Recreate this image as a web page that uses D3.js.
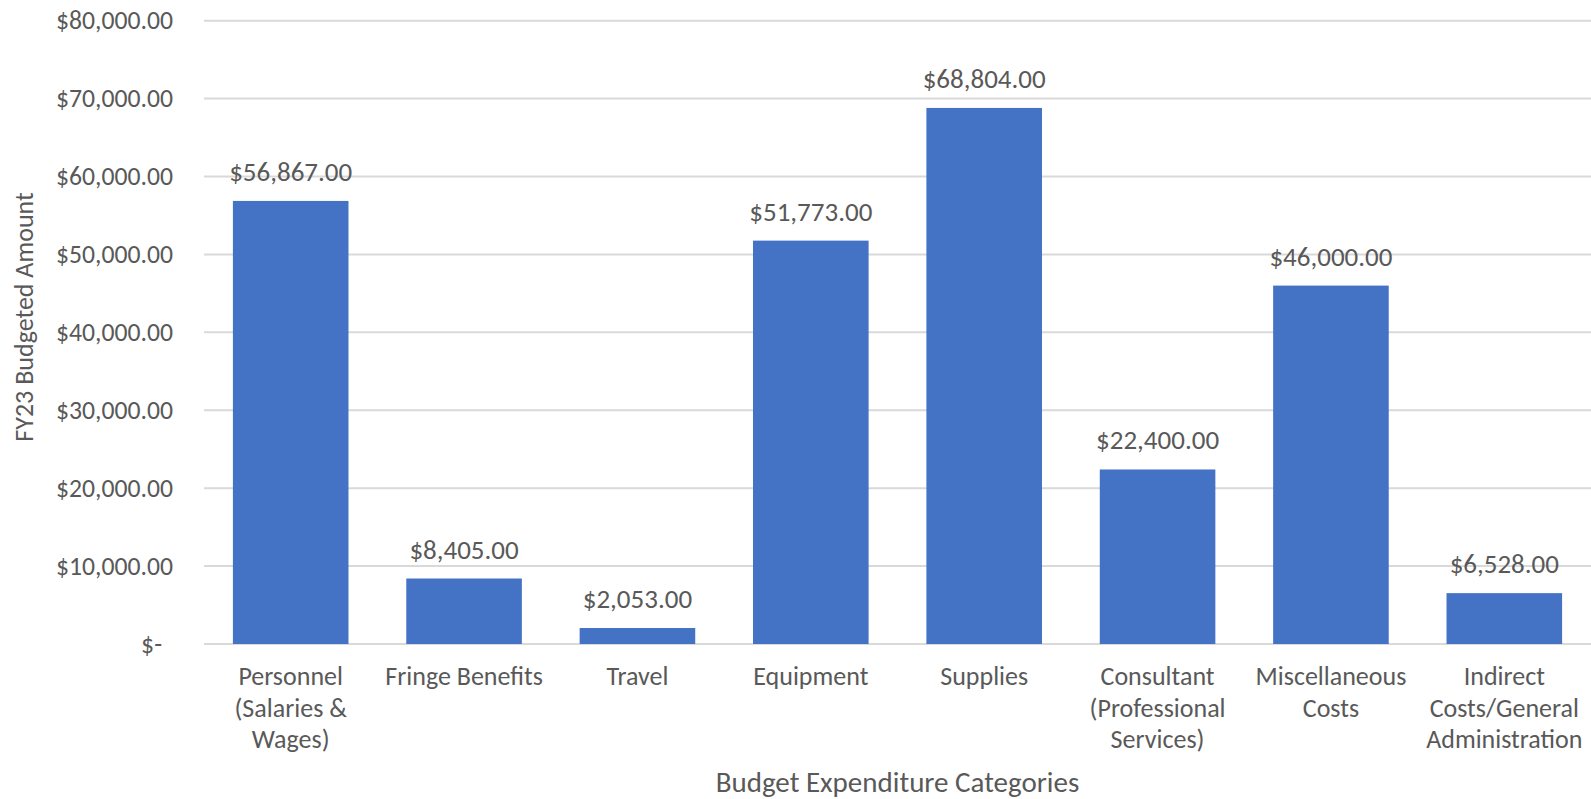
<!DOCTYPE html>
<html>
<head>
<meta charset="utf-8">
<script src="https://cdn.jsdelivr.net/npm/d3@7/dist/d3.min.js"></script>
<style>
  html, body { margin: 0; padding: 0; background: #ffffff; }
  svg { display: block; }
  text { font-family: Carlito, Calibri, Lato, "Open Sans", sans-serif; fill: #595959; }
</style>
</head>
<body>
<svg id="chart" width="1591" height="799"></svg>
<script>
// Budget categories (each entry is one line of the axis label)
const categories = [
  ["Personnel", "(Salaries &", "Wages)"],
  ["Fringe Benefits"],
  ["Travel"],
  ["Equipment"],
  ["Supplies"],
  ["Consultant", "(Professional", "Services)"],
  ["Miscellaneous", "Costs"],
  ["Indirect", "Costs/General", "Administration"]
];

// FY23 budgeted amounts, in dollars
const amounts = [56867, 8405, 2053, 51773, 68804, 22400, 46000, 6528];

// Value axis ticks
const yTicks = [0, 10000, 20000, 30000, 40000, 50000, 60000, 70000, 80000];

const xTitle = "Budget Expenditure Categories";
const yTitle = "FY23 Budgeted Amount";

const W = 1591, H = 799;
const margin = { left: 204, right: 0, top: 20.7, bottom: 155 };
const plotBottom = H - margin.bottom;

const svg = d3.select("#chart");

const keys = categories.map((c, i) => i);
const x = d3.scaleBand()
  .domain(keys)
  .range([margin.left, W - margin.right])
  .paddingInner(1 / 3)
  .paddingOuter(1 / 6);

const y = d3.scaleLinear()
  .domain([0, 80000])
  .range([plotBottom, margin.top]);

const money = d3.format("$,.2f");
const tickLabel = v => v === 0 ? "$-" : money(v);

// Horizontal gridlines
svg.append("g")
  .selectAll("line")
  .data(yTicks)
  .join("line")
  .attr("x1", margin.left)
  .attr("x2", W - margin.right)
  .attr("y1", d => y(d))
  .attr("y2", d => y(d))
  .attr("stroke", "#d9d9d9")
  .attr("stroke-width", 2);

// Value axis labels
const yAxis = d3.axisLeft(y)
  .tickValues(yTicks)
  .tickFormat(tickLabel)
  .tickSize(0)
  .tickPadding(31);

const yg = svg.append("g")
  .attr("transform", `translate(${margin.left},0)`)
  .call(yAxis);
yg.select(".domain").remove();
yg.selectAll(".tick text")
  .attr("fill", "#595959")
  .style("font-family", "Carlito, Calibri, Lato, sans-serif")
  .style("font-size", "25.7px")
  .attr("dx", d => d === 0 ? -11 : 0);

// Bars
svg.append("g")
  .selectAll("rect")
  .data(amounts)
  .join("rect")
  .attr("x", (d, i) => x(i))
  .attr("width", x.bandwidth())
  .attr("y", d => y(d))
  .attr("height", d => y(0) - y(d))
  .attr("fill", "#4472c4");

// Value labels above bars
svg.append("g")
  .selectAll("text")
  .data(amounts)
  .join("text")
  .attr("x", (d, i) => x(i) + x.bandwidth() / 2)
  .attr("y", d => y(d) - 20)
  .attr("text-anchor", "middle")
  .style("font-size", "27px")
  .text(d => money(d));

// Category labels
const catG = svg.append("g")
  .selectAll("text")
  .data(categories)
  .join("text")
  .attr("x", (d, i) => x(i) + x.bandwidth() / 2)
  .attr("y", y(0) + 41)
  .attr("text-anchor", "middle")
  .style("font-size", "26px");
catG.selectAll("tspan")
  .data(d => d)
  .join("tspan")
  .attr("x", function () { return d3.select(this.parentNode).attr("x"); })
  .attr("dy", (d, j) => j === 0 ? 0 : 31.5)
  .text(d => d);

// Axis titles
svg.append("text")
  .attr("x", margin.left + (W - margin.right - margin.left) / 2)
  .attr("y", 792)
  .attr("text-anchor", "middle")
  .style("font-size", "29px")
  .text(xTitle);

svg.append("text")
  .attr("transform", `translate(33,317) rotate(-90)`)
  .attr("text-anchor", "middle")
  .style("font-size", "26px")
  .text(yTitle);
</script>
</body>
</html>
